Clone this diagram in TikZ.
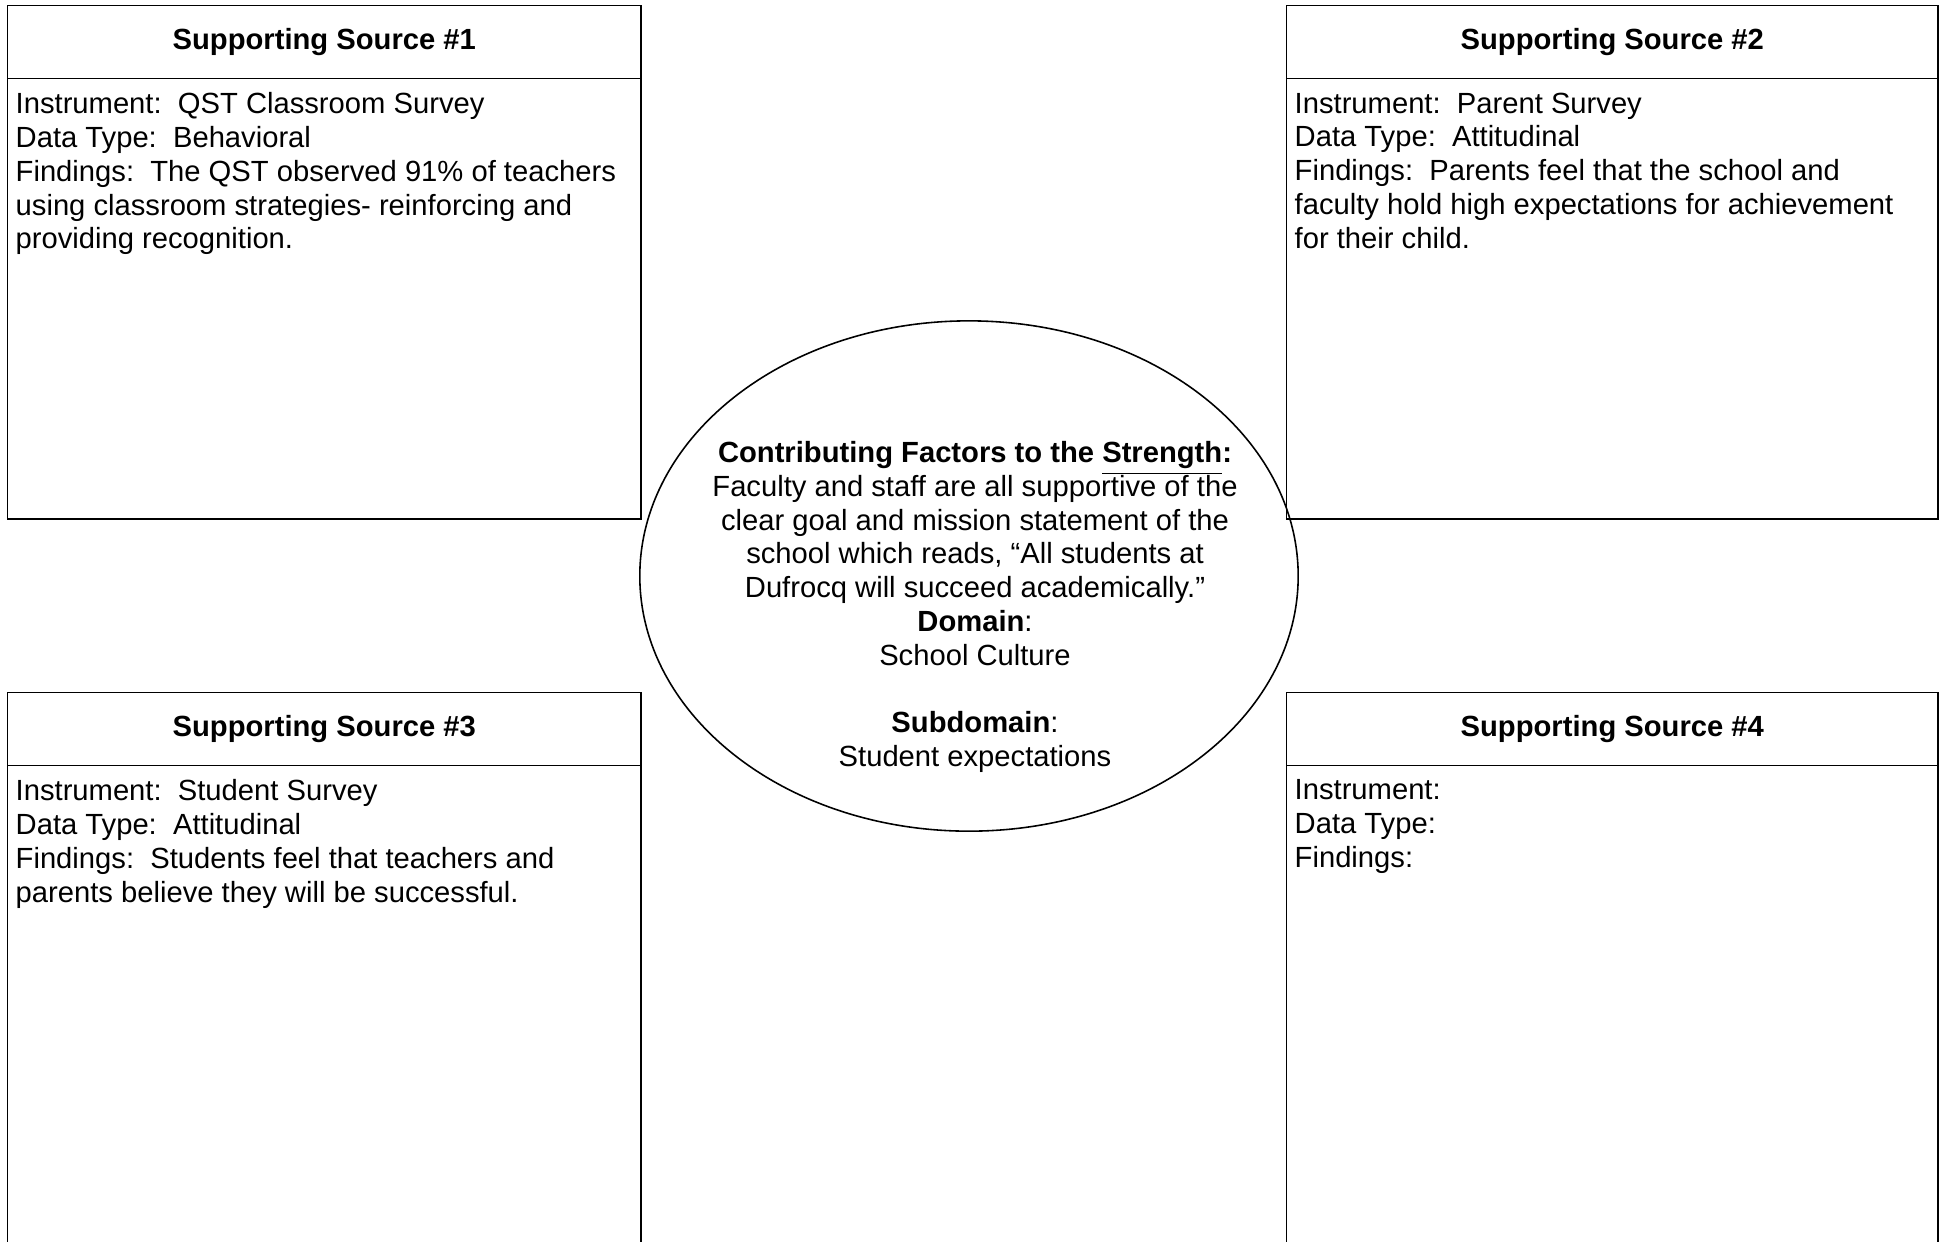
\documentclass[tikz,border=0pt]{standalone}
\usepackage{fontspec}
\setmainfont{Liberation Sans}
\usetikzlibrary{shapes.geometric}

\begin{document}
\begin{tikzpicture}[x=0.01cm,y=-0.01cm,
    srcbox/.style={draw,line width=0.35pt,rectangle,inner sep=0,anchor=north west},
    srchead/.style={srcbox,minimum height=0.73cm,font=\fontsize{8.3}{9.6}\selectfont\bfseries},
    srctext/.style={align=left,anchor=north west,inner sep=0,font=\fontsize{8.3}{9.6}\selectfont}]
\useasboundingbox (0,0) rectangle (1944,1241);
\clip (0,0) rectangle (1944,1241);

% the four source boxes
\node[srcbox,minimum width=6.33cm,minimum height=5.13cm] (src1) at (7,5) {};
\node[srcbox,minimum width=6.51cm,minimum height=5.13cm] (src2) at (1286,5) {};
\node[srcbox,minimum width=6.33cm,minimum height=6.00cm] (src3) at (7,692) {};
\node[srcbox,minimum width=6.51cm,minimum height=6.00cm] (src4) at (1286,692) {};

\node[srchead,minimum width=6.33cm] (head1) at (src1.north west) {Supporting Source \#1};
\node[srchead,minimum width=6.51cm] (head2) at (src2.north west) {Supporting Source \#2};
\node[srchead,minimum width=6.33cm] (head3) at (src3.north west) {Supporting Source \#3};
\node[srchead,minimum width=6.51cm] (head4) at (src4.north west) {Supporting Source \#4};

\node[srctext] (text1) at (15,92) {Instrument:\ \ QST Classroom Survey\\
    Data Type:\ \ Behavioral\\
    Findings:\ \ The QST observed 91\% of teachers\\
    using classroom strategies- reinforcing and\\
    providing recognition.};
\node[srctext] (text2) at (1294,92) {Instrument:\ \ Parent Survey\\
    Data Type:\ \ Attitudinal\\
    Findings:\ \ Parents feel that the school and\\
    faculty hold high expectations for achievement\\
    for their child.};
\node[srctext] (text3) at (15,779) {Instrument:\ \ Student Survey\\
    Data Type:\ \ Attitudinal\\
    Findings:\ \ Students feel that teachers and\\
    parents believe they will be successful.};
\node[srctext] (text4) at (1294,779) {Instrument:\\
    Data Type:\\
    Findings:};

% the strength in the middle
\node[draw,ellipse,line width=0.45pt,inner sep=0,minimum width=6.58cm,minimum height=5.10cm] (strength) at (969,576) {};
\node[align=center,inner sep=0,font=\fontsize{8.3}{9.6}\selectfont] (factors) at (975,607) {%
    \textbf{Contributing Factors to the \smash{\underline{Strength}}:}\\
    Faculty and staff are all supportive of the\\
    clear goal and mission statement of the\\
    school which reads, ``All students at\\
    Dufrocq will succeed academically.''\\
    \textbf{Domain}:\\
    School Culture\\[9.6pt]
    \textbf{Subdomain}:\\
    Student expectations};

\end{tikzpicture}
\end{document}
